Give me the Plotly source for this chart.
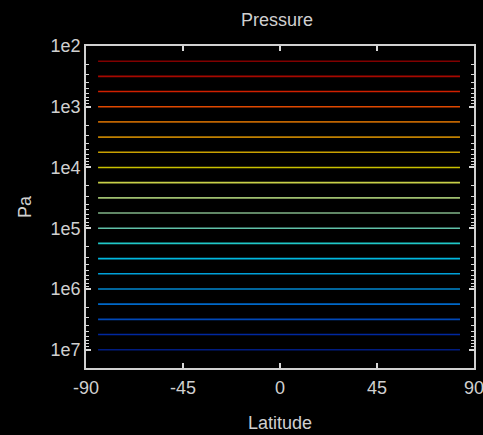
import plotly.graph_objects as go

# Data
pressure_levels = [178, 316, 562, 1000, 1778, 3162, 5623, 10000, 17783, 31623,
                   56234, 100000, 177828, 316228, 562341, 1000000, 1778279,
                   3162278, 5623413, 10000000]
latitude_span = [-84.4, 83.5]
y_tick_values = [1e2, 1e3, 1e4, 1e5, 1e6, 1e7]
y_tick_labels = ["1e2", "1e3", "1e4", "1e5", "1e6", "1e7"]
x_tick_values = [-90, -45, 0, 45, 90]
x_tick_labels = ["-90", "-45", "0", "45", "90"]

# Styles (top -> bottom)
line_colors = ["#800000", "#A80800", "#D02000", "#E04800", "#C06400",
               "#C08000", "#C8A000", "#C8C000", "#C8D048", "#A0C070",
               "#80B488", "#60C0A8", "#20C8C8", "#00B8E0", "#00A0D8",
               "#0088D0", "#0068C8", "#0048B8", "#0028A0", "#001C80"]

minor_vals = []
for d in [1e2, 1e3, 1e4, 1e5, 1e6, 1e7]:
    for m in range(2, 10):
        minor_vals.append(d * m)

fig = go.Figure()
for p, c in zip(pressure_levels, line_colors):
    fig.add_trace(go.Scatter(x=latitude_span, y=[p, p], mode="lines",
                             line=dict(color=c, width=1.6), showlegend=False,
                             hoverinfo="skip"))

axis_col = "#D0D0D0"
tick_col = "#D8D8D8"
font = dict(family="Liberation Sans", size=18, color="#D0D0D0")

W, H = 483, 435
fig.update_layout(
    width=W, height=H,
    paper_bgcolor="black", plot_bgcolor="black",
    margin=dict(l=86, r=9, t=46, b=67, autoexpand=False),
    font=font,
    title=dict(text="Pressure", x=277 / W, xref="container", xanchor="center",
               y=1 - 20 / H, yref="container", yanchor="middle", font=font,
               automargin=False),
    xaxis=dict(range=[-90, 90], tickvals=x_tick_values, ticktext=x_tick_labels,
               showgrid=False, zeroline=False, showline=True, linecolor=axis_col,
               linewidth=1.5, mirror="allticks", ticks="inside", ticklen=5,
               tickcolor=tick_col, tickwidth=1.5, tickfont=font, automargin=False,
               ticklabelstandoff=3, ticklabeloverflow="allow",
               title=dict(text="Latitude", font=font, standoff=19)),
    yaxis=dict(type="log", range=[7.301, 2], tickvals=y_tick_values,
               ticktext=y_tick_labels,
               showgrid=False, zeroline=False, showline=True, linecolor=axis_col,
               linewidth=1.5, mirror="allticks", ticks="inside", ticklen=5,
               tickcolor=tick_col, tickwidth=1.5, tickfont=font, automargin=False,
               ticklabeloverflow="allow",
               minor=dict(ticks="inside", ticklen=3, tickcolor=tick_col,
                          tickwidth=1, tickvals=minor_vals, showgrid=False),
               title=dict(text="Pa", font=font, standoff=14)),
)

fig.write_html("out.html", config={"displayModeBar": False},
               post_script="document.body.style.margin='0';")
